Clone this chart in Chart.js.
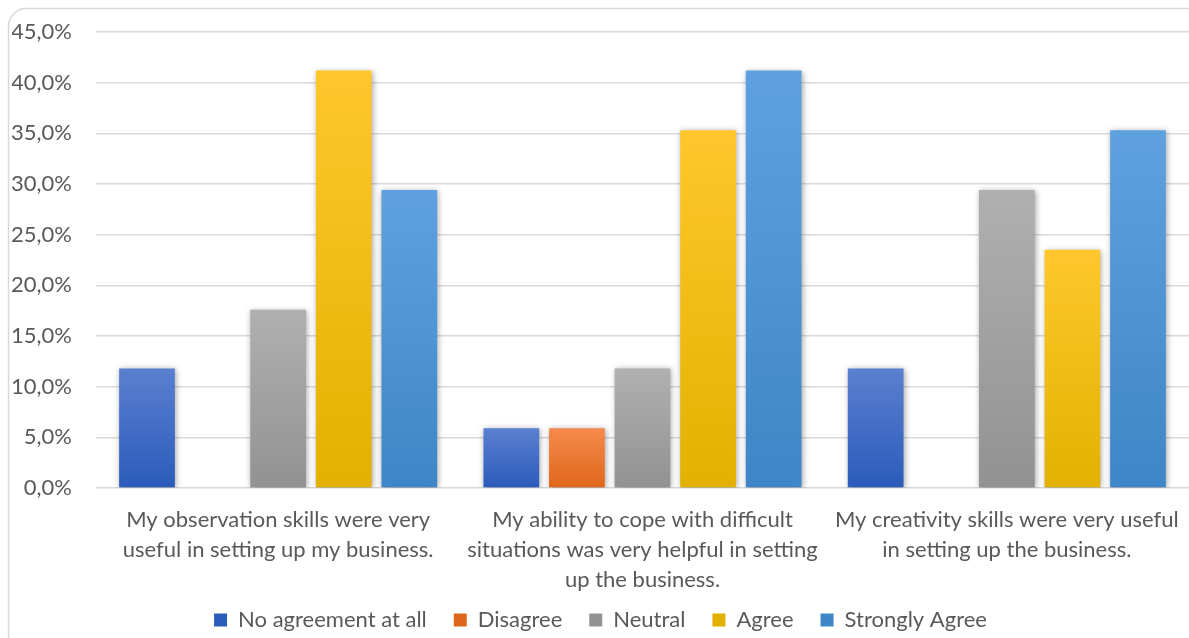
<!DOCTYPE html>
<html>
<head>
<meta charset="utf-8">
<script src="https://cdn.jsdelivr.net/npm/chart.js@4/dist/chart.umd.min.js"></script>
<style>
  html, body { margin: 0; padding: 0; background: #fff; }
  #wrap { width: 1189px; height: 638px; }
</style>
</head>
<body>
<div id="wrap"><canvas id="myChart"></canvas></div>
<script>
// categories (x axis)
var labels = [
    ["My observation skills were very", "useful in setting up my business."],
    ["My ability to cope with difficult", "situations was very helpful in setting", "up the business."],
    ["My creativity skills were very useful", "in setting up the business."]
];

// series values, in percent
var noAgreement   = [11.8, 5.9, 11.8];
var disagree      = [0, 5.9, 0];
var neutral       = [17.6, 11.8, 29.4];
var agree         = [41.2, 35.3, 23.5];
var stronglyAgree = [29.4, 41.2, 35.3];

var seriesNames = ["No agreement at all", "Disagree", "Neutral", "Agree", "Strongly Agree"];

// y ticks
var yMax = 45;
var yStep = 5;

// [top, bottom] of each bar's gradient
var colours = [
    ['#5a80cf', '#2b5bbb'],
    ['#f58b4d', '#df6719'],
    ['#b0b0b0', '#929292'],
    ['#ffc72c', '#e2b100'],
    ['#5fa1e0', '#3e86c7']
];

function gradientFill(idx) {
    return function (context) {
        var chart = context.chart;
        var area = chart.chartArea;
        if (!area) return colours[idx][1];
        var y = chart.scales.y;
        var v = context.raw || 0;
        var top = y.getPixelForValue(v);
        var bottom = y.getPixelForValue(0);
        if (bottom - top < 1) return colours[idx][1];
        var g = chart.ctx.createLinearGradient(0, top, 0, bottom);
        g.addColorStop(0, colours[idx][0]);
        g.addColorStop(1, colours[idx][1]);
        return g;
    };
}

// rounded frame round the chart + soft shadow under bars
var framePlugin = {
    id: 'frame',
    afterLayout: function (chart) {
        // let the 3-line category label run into the legend's top padding
        chart.scales.x.bottom = chart.scales.x.top + 108;
    },
    beforeDraw: function (chart) {
        var ctx = chart.ctx;
        ctx.save();
        ctx.strokeStyle = '#d9d9d9';
        ctx.lineWidth = 1.5;
        ctx.beginPath();
        ctx.roundRect(8.5, 8.5, 1200, 660, 18);
        ctx.stroke();
        ctx.restore();
    },
    beforeDatasetsDraw: function (chart) {
        var ctx = chart.ctx;
        ctx.save();
        ctx.shadowColor = 'rgba(0,0,0,0.35)';
        ctx.shadowBlur = 6;
        ctx.shadowOffsetX = 1;
        ctx.shadowOffsetY = 1;
    },
    afterDatasetsDraw: function (chart) {
        chart.ctx.restore();
    }
};

var allData = [noAgreement, disagree, neutral, agree, stronglyAgree];
var datasets = [];
for (var i = 0; i < allData.length; i++) {
    datasets.push({
        label: seriesNames[i],
        data: allData[i],
        backgroundColor: gradientFill(i),
        borderWidth: 0,
        categoryPercentage: 0.9,
        barPercentage: 0.85
    });
}

var ctx = document.getElementById("myChart").getContext('2d');

var myChart = new Chart(ctx, {
    type: 'bar',
    data: {
        labels: labels,
        datasets: datasets
    },
    plugins: [framePlugin],
    options: {
        responsive: true,
        maintainAspectRatio: false,
        animation: false,
        layout: {
            padding: { top: 32, left: 12, right: 0, bottom: 0 }
        },
        plugins: {
            legend: {
                position: 'bottom',
                maxHeight: 56,
                labels: {
                    color: '#595959',
                    boxWidth: 13,
                    boxHeight: 13,
                    padding: 27,
                    font: { family: 'Lato', size: 22 },
                    generateLabels: function (chart) {
                        return seriesNames.map(function (n, i) {
                            return {
                                text: n,
                                fillStyle: colours[i][1],
                                strokeStyle: colours[i][1],
                                lineWidth: 0,
                                fontColor: '#595959',
                                datasetIndex: i,
                                hidden: false
                            };
                        });
                    }
                }
            },
            tooltip: { enabled: false }
        },
        scales: {
            x: {
                grid: { display: false },
                border: { display: false },
                afterFit: function (scale) {
                    scale.height = 94;
                },
                ticks: {
                    color: '#595959',
                    padding: 9,
                    maxRotation: 0,
                    autoSkip: false,
                    font: { family: 'Lato', size: 22, lineHeight: 1.36 }
                }
            },
            y: {
                min: 0,
                max: yMax,
                border: { display: false },
                grid: {
                    color: '#d9d9d9',
                    lineWidth: 1.5,
                    drawTicks: false
                },
                afterFit: function (scale) {
                    scale.width = 84;
                    scale.paddingTop = 0;
                    scale.paddingBottom = 0;
                },
                ticks: {
                    stepSize: yStep,
                    color: '#595959',
                    padding: 24,
                    font: { family: 'Lato', size: 22 },
                    callback: function (v) {
                        return v.toFixed(1).replace('.', ',') + '%';
                    }
                }
            }
        }
    }
});
</script>
</body>
</html>
